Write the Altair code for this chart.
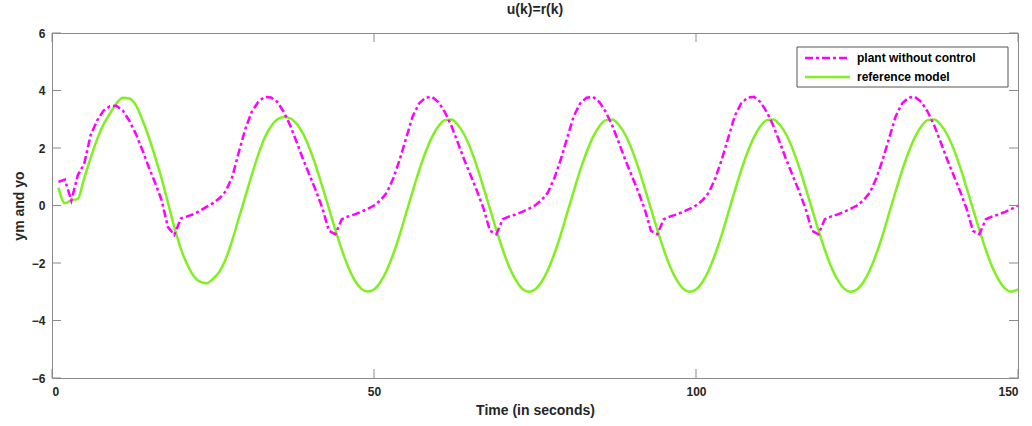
import altair as alt
import pandas as pd

# sample index (seconds)
k = list(range(1, 151))

# plant output with u(k) = r(k)
plant = [
    0.82, 0.90, 0.17, 1.05, 1.45, 2.45, 2.95, 3.30, 3.45, 3.47,
    3.30, 2.95, 2.50, 1.95, 1.35, 0.80, 0.20, -0.75, -1.02, -0.45,
    -0.38, -0.30, -0.18, -0.05, 0.08, 0.25, 0.50, 1.00, 1.85, 2.65,
    3.25, 3.60, 3.78, 3.76, 3.60, 3.25, 2.78, 2.20, 1.60, 1.05,
    0.50, -0.10, -0.88,
    -1.00, -0.48, -0.38, -0.31, -0.22, -0.12, 0.00, 0.18, 0.45, 0.95,
    1.60, 2.35, 3.10, 3.55, 3.75, 3.78, 3.60, 3.25, 2.78, 2.20,
    1.60, 1.05, 0.50, -0.10, -0.88,
    -1.00, -0.48, -0.38, -0.31, -0.22, -0.12, 0.00, 0.18, 0.45, 0.95,
    1.60, 2.35, 3.10, 3.55, 3.75, 3.78, 3.60, 3.25, 2.78, 2.20,
    1.60, 1.05, 0.50, -0.10, -0.88,
    -1.00, -0.48, -0.38, -0.31, -0.22, -0.12, 0.00, 0.18, 0.45, 0.95,
    1.60, 2.35, 3.10, 3.55, 3.75, 3.78, 3.60, 3.25, 2.78, 2.20,
    1.60, 1.05, 0.50, -0.10, -0.88,
    -1.00, -0.48, -0.38, -0.31, -0.22, -0.12, 0.00, 0.18, 0.45, 0.95,
    1.60, 2.35, 3.10, 3.55, 3.75, 3.78, 3.60, 3.25, 2.78, 2.20,
    1.60, 1.05, 0.50, -0.10, -0.88,
    -1.00, -0.48, -0.38, -0.31, -0.22, -0.12, 0.00,
]

# reference model output
reference = [
    0.62, 0.08, 0.18, 0.23, 0.95, 1.65, 2.30, 2.82, 3.20, 3.55,
    3.75, 3.72, 3.50, 3.00, 2.40, 1.70, 0.95, 0.10, -0.75, -1.50,
    -2.05, -2.45, -2.65, -2.70, -2.55, -2.30, -1.85, -1.20, -0.45, 0.30,
    1.05, 1.75, 2.35, 2.75, 3.00, 3.08, 3.03, 2.84, 2.49, 1.98,
    1.35, 0.64, -0.10, -0.85, -1.54, -2.14, -2.60, -2.89, -2.99, -2.92,
    -2.66, -2.24, -1.68, -1.01, -0.26,
    0.49, 1.21, 1.85, 2.38, 2.76, 2.97, 2.99, 2.81, 2.47, 1.97,
    1.34, 0.63, -0.11, -0.85, -1.54, -2.14, -2.59, -2.89, -3.00, -2.92,
    -2.66, -2.24, -1.68, -1.01, -0.26,
    0.49, 1.21, 1.85, 2.38, 2.76, 2.97, 2.99, 2.81, 2.47, 1.97,
    1.34, 0.63, -0.11, -0.85, -1.54, -2.14, -2.59, -2.89, -3.00, -2.92,
    -2.66, -2.24, -1.68, -1.01, -0.26,
    0.49, 1.21, 1.85, 2.38, 2.76, 2.97, 2.99, 2.81, 2.47, 1.97,
    1.34, 0.63, -0.11, -0.85, -1.54, -2.14, -2.59, -2.89, -3.00, -2.92,
    -2.66, -2.24, -1.68, -1.01, -0.26,
    0.49, 1.21, 1.85, 2.38, 2.76, 2.97, 2.99, 2.81, 2.47, 1.97,
    1.34, 0.63, -0.11, -0.85, -1.54, -2.14, -2.59, -2.89, -3.00, -2.92,
]

series_names = ["plant without control", "reference model"]
series_colors = ["#FF00FF", "#80F020"]
series_dashes = [[8, 3, 3, 3], [1, 0]]

x_ticks = [0, 50, 100, 150]
y_ticks = [-6, -4, -2, 0, 2, 4, 6]

W, H = 966, 345
FONT = "Liberation Sans"
AXIS_GREY = "#8a8a8a"
TEXT = "#262626"

x_scale = alt.Scale(domain=[0, 150], nice=False, zero=False)
y_scale = alt.Scale(domain=[-6, 6], nice=False, zero=False)

x_enc = alt.X("k:Q", scale=x_scale,
              axis=alt.Axis(values=x_ticks, title="Time (in seconds)", ticks=False,
                            domain=False, grid=False, labelPadding=8, titlePadding=6))
y_enc = alt.Y("v:Q", scale=y_scale,
              axis=alt.Axis(values=y_ticks, title="ym and yo", ticks=False,
                            domain=False, grid=False, labelPadding=7, titlePadding=5))

plant_df = pd.DataFrame({"k": k, "v": plant})
ref_df = pd.DataFrame({"k": k, "v": reference})

plant_line = alt.Chart(plant_df).mark_line(
    strokeWidth=2.5, strokeCap="butt", color=series_colors[0],
    strokeDash=series_dashes[0]
).encode(x=x_enc, y=y_enc)

ref_line = alt.Chart(ref_df).mark_line(
    strokeWidth=2.5, color=series_colors[1], interpolate="monotone"
).encode(x=x_enc, y=y_enc)

# inward tick marks on all four sides of the box
xt = pd.DataFrame({"k": x_ticks})
yt = pd.DataFrame({"v": y_ticks})
tick_style = dict(color=AXIS_GREY, strokeWidth=1)
xb = alt.Chart(xt).mark_rule(**tick_style).encode(
    x=alt.X("k:Q", scale=x_scale), y=alt.value(H), y2=alt.value(H - 9))
xtp = alt.Chart(xt).mark_rule(**tick_style).encode(
    x=alt.X("k:Q", scale=x_scale), y=alt.value(0), y2=alt.value(9))
yl = alt.Chart(yt).mark_rule(**tick_style).encode(
    y=alt.Y("v:Q", scale=y_scale), x=alt.value(0), x2=alt.value(9))
yr = alt.Chart(yt).mark_rule(**tick_style).encode(
    y=alt.Y("v:Q", scale=y_scale), x=alt.value(W), x2=alt.value(W - 9))

# legend box in the upper right corner of the axes
LX0, LX1, LY0, LY1 = 745, 956, 14, 54
row_y = [25, 44]
one = pd.DataFrame({"n": [0]})
legend_layers = [
    alt.Chart(one).mark_rect(fill="white", stroke="#555555", strokeWidth=1).encode(
        x=alt.value(LX0), x2=alt.value(LX1), y=alt.value(LY0), y2=alt.value(LY1))
]
for name, col, dash, ry in zip(series_names, series_colors, series_dashes, row_y):
    legend_layers.append(
        alt.Chart(one).mark_rule(color=col, strokeWidth=2.5, strokeDash=dash,
                                 strokeCap="butt").encode(
            x=alt.value(LX0 + 8), x2=alt.value(LX0 + 53), y=alt.value(ry)))
    legend_layers.append(
        alt.Chart(pd.DataFrame({"label": [name]})).mark_text(
            align="left", baseline="middle", font=FONT, fontSize=12,
            fontWeight="bold", color="#000000").encode(
            x=alt.value(LX0 + 60), y=alt.value(ry), text="label:N"))

chart = alt.layer(ref_line, plant_line, xb, xtp, yl, yr, *legend_layers).properties(
    width=W, height=H,
    title=alt.Title("u(k)=r(k)", fontSize=14, fontWeight="bold", font=FONT,
                    color=TEXT, offset=10, frame="group", anchor="middle"),
    autosize=alt.AutoSizeParams(type="none"),
    padding={"left": 52, "top": 33, "right": 14, "bottom": 48},
).configure_view(
    stroke=AXIS_GREY, strokeWidth=1
).configure_axis(
    labelFont=FONT, labelFontSize=12, labelFontWeight="bold", labelColor=TEXT,
    titleFont=FONT, titleFontSize=14, titleFontWeight="bold", titleColor=TEXT,
)

chart.save("out.html", embed_options={"renderer": "svg", "actions": False})
